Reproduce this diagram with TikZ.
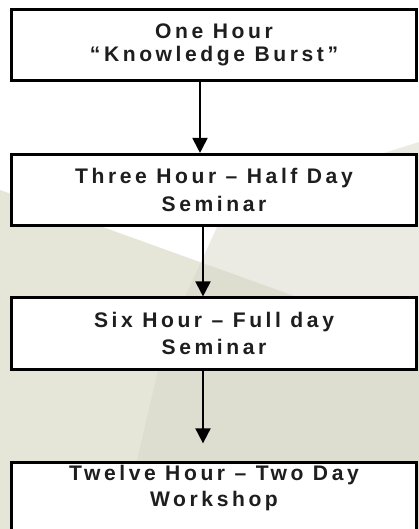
\documentclass[tikz,border=0pt]{standalone}
\usepackage{fontspec}
\setmainfont{Liberation Sans}
\newfontfamily\stepfont{Liberation Sans}[LetterSpace=17]
\usetikzlibrary{arrows.meta}
\definecolor{bg-beige}{RGB}{229,229,216}
\definecolor{bg-grey}{RGB}{235,235,227}
\definecolor{bg-dark}{RGB}{221,221,208}
\definecolor{step-ink}{RGB}{30,30,30}
\tikzset{
  step-box/.style={
    draw=black,
    fill=white,
    line width=1.5pt,
    minimum width=8.1cm,
    minimum height=1.43cm,
    align=center,
    text=step-ink,
    font=\stepfont\bfseries\fontsize{12pt}{15.5pt}\selectfont
  },
  step-box-tight/.style={
    step-box,
    font=\stepfont\bfseries\fontsize{12pt}{13.5pt}\selectfont
  },
  step-box-open/.style={
    step-box,
    minimum height=0pt,
    inner ysep=1.5pt,
    text depth=1.5cm,
    anchor=north,
    font=\stepfont\bfseries\fontsize{12pt}{14.5pt}\selectfont
  },
  flow-arrow/.style={
    line width=1.1pt,
    draw=black,
    -{Triangle[length=0.3cm,width=0.3cm]}
  }
}

\begin{document}
\begin{tikzpicture}[x=0.02cm,y=-0.02cm]
  \useasboundingbox (0,0) rectangle (419,529);
  % Background
  \fill[white] (0,0) rectangle (419,529);
  \fill[bg-beige] (0,190) -- (419,341) -- (419,529) -- (0,529) -- cycle;
  \fill[bg-grey] (419,142) -- (229,202) -- (217,227) -- (185,297) -- (158,370)
    -- (137,460) -- (121,529) -- (419,529) -- cycle;
  \begin{scope}
    \clip (0,190) -- (419,341) -- (419,529) -- (0,529) -- cycle;
    \fill[bg-dark] (419,142) -- (229,202) -- (217,227) -- (185,297) -- (158,370)
      -- (137,460) -- (121,529) -- (419,529) -- cycle;
  \end{scope}
  % Steps
  \node[step-box-tight] (one-hour) at (214,45) {One Hour\\“Knowledge Burst”};
  \node[step-box] (three-hour) at (214,190) {Three Hour – Half Day\\Seminar};
  \node[step-box] (six-hour) at (214,333.5) {Six Hour – Full day\\Seminar};
  \node[step-box-open] (twelve-hour) at (214,461.35) {Twelve Hour – Two Day\\Workshop};
  % Arrows
  \draw[flow-arrow] ([xshift=-0.28cm]one-hour.south) -- ([xshift=-0.28cm]one-hour.south |- three-hour.north);
  \draw[flow-arrow] ([xshift=-0.22cm]three-hour.south) -- ([xshift=-0.22cm]three-hour.south |- six-hour.north);
  \draw[flow-arrow, shorten >=0.36cm] ([xshift=-0.22cm]six-hour.south) -- ([xshift=-0.22cm]six-hour.south |- twelve-hour.north);
\end{tikzpicture}
\end{document}
